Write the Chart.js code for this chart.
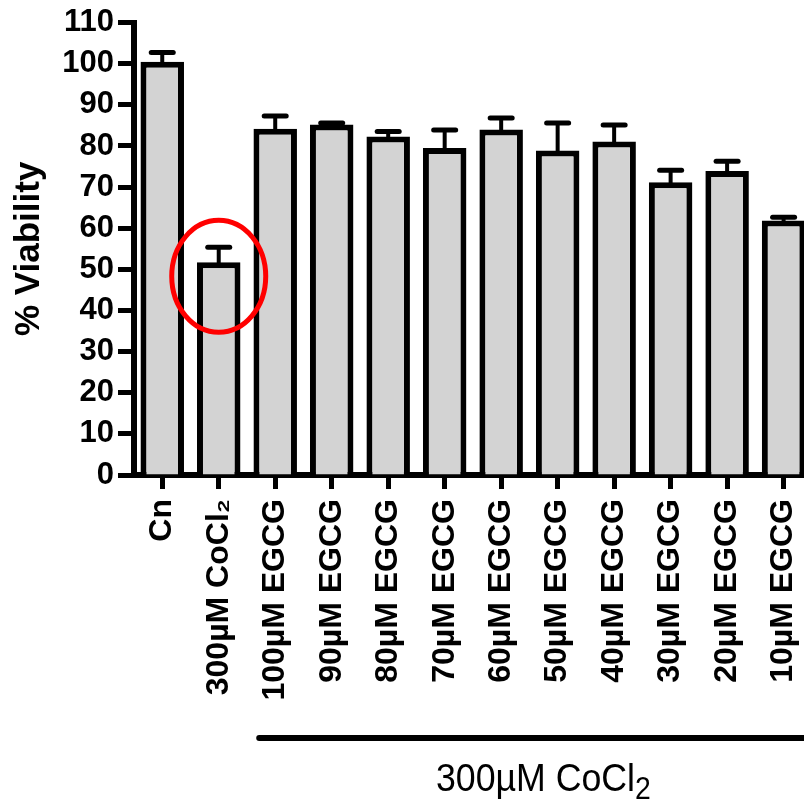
<!DOCTYPE html>
<html>
<head>
<meta charset="utf-8">
<script src="https://cdn.jsdelivr.net/npm/chart.js@4.4.0/dist/chart.umd.min.js"></script>
<style>
  html, body { margin: 0; padding: 0; background: #fff; overflow: hidden; }
  canvas { display: block; }
</style>
</head>
<body>
<canvas id="viabilityChart" width="832" height="801"></canvas>
<script>
// Data
const categories = ['Cn', '300µM CoCl₂', '100µM EGCG', '90µM EGCG', '80µM EGCG', '70µM EGCG',
    '60µM EGCG', '50µM EGCG', '40µM EGCG', '30µM EGCG', '20µM EGCG', '10µM EGCG'];
const viability = [100.5, 51.7, 84.2, 85.2, 82.3, 79.5, 84.0, 78.9, 81.1, 71.2, 73.9, 61.9];
const sem = [2.2, 3.7, 3.1, 0.4, 1.2, 4.4, 2.8, 6.7, 4.0, 2.9, 2.4, 0.8];
const yTicks = [0, 10, 20, 30, 40, 50, 60, 70, 80, 90, 100, 110];
const highlighted = 1;          // bar circled in red
const groupStart = 2;           // first bar under the CoCl2 bracket
const groupLabel = '300µM CoCl';

const FONT = "'Liberation Sans', Arial, sans-serif";

// Error bars (upper only) drawn from the bar elements
const errorBars = {
    id: 'errorBars',
    afterDatasetsDraw(chart) {
        const ctx = chart.ctx;
        const y = chart.scales.y;
        const meta = chart.getDatasetMeta(0);
        ctx.save();
        ctx.strokeStyle = '#000';
        ctx.lineCap = 'round';
        meta.data.forEach((bar, i) => {
            const top = y.getPixelForValue(viability[i] + sem[i]);
            ctx.lineWidth = 4;
            ctx.beginPath();
            ctx.moveTo(bar.x, bar.y);
            ctx.lineTo(bar.x, top);
            ctx.stroke();
            ctx.lineWidth = 5;
            ctx.beginPath();
            ctx.moveTo(bar.x - 11, top);
            ctx.lineTo(bar.x + 11, top);
            ctx.stroke();
        });
        ctx.restore();
    }
};

// Red ellipse, bracket line and group label
const annotations = {
    id: 'annotations',
    afterDraw(chart) {
        const ctx = chart.ctx;
        const x = chart.scales.x;
        const y = chart.scales.y;
        ctx.save();
        // ellipse round the CoCl2 bar
        ctx.strokeStyle = '#ff0000';
        ctx.lineWidth = 5;
        ctx.beginPath();
        ctx.ellipse(x.getPixelForValue(highlighted), y.getPixelForValue(48.3), 47, 56, 0, 0, Math.PI * 2);
        ctx.stroke();

        // bracket under the treated groups
        const x0 = x.getPixelForValue(groupStart) - 16;
        const x1 = chart.width;
        ctx.strokeStyle = '#000';
        ctx.lineWidth = 6;
        ctx.lineCap = 'round';
        ctx.beginPath();
        ctx.moveTo(x0, 738);
        ctx.lineTo(x1 + 10, 738);
        ctx.stroke();

        // group label with subscript
        const cx = (x.getPixelForValue(groupStart) + x.getPixelForValue(categories.length - 1)) / 2 + 14;
        ctx.fillStyle = '#000';
        ctx.textBaseline = 'alphabetic';
        ctx.textAlign = 'left';
        ctx.translate(cx, 791);
        ctx.scale(0.915, 1);
        ctx.font = '39px ' + FONT;
        const mainW = ctx.measureText(groupLabel).width;
        ctx.font = '31px ' + FONT;
        const subW = ctx.measureText('2').width;
        const start = -(mainW + subW) / 2;
        ctx.font = '39px ' + FONT;
        ctx.fillText(groupLabel, start, 0);
        ctx.font = '31px ' + FONT;
        ctx.fillText('2', start + mainW, 8);
        ctx.restore();
    }
};

const ctx = document.getElementById('viabilityChart').getContext('2d');
new Chart(ctx, {
    type: 'bar',
    data: {
        labels: categories,
        datasets: [{
            label: '% Viability',
            data: viability,
            backgroundColor: '#d3d3d3',
            borderColor: '#000',
            borderWidth: 6,
            borderSkipped: 'bottom',
            categoryPercentage: 1,
            barPercentage: 0.77
        }]
    },
    options: {
        responsive: false,
        animation: false,
        layout: {
            padding: { top: 22, right: 0, bottom: 0, left: 0 }
        },
        plugins: {
            legend: { display: false },
            tooltip: { enabled: false }
        },
        scales: {
            x: {
                afterFit: s => { s.height = 326; },
                grid: {
                    offset: false,
                    drawOnChartArea: false,
                    drawTicks: true,
                    tickLength: 14,
                    tickWidth: 5,
                    tickColor: '#000'
                },
                border: { display: true, width: 6, color: '#000' },
                ticks: {
                    autoSkip: false,
                    maxRotation: 90,
                    minRotation: 90,
                    padding: 10,
                    color: '#000',
                    font: { family: FONT, size: 32, weight: 'bold' }
                }
            },
            y: {
                min: 0,
                max: 110,
                afterFit: s => { s.width = 134; },
                afterBuildTicks: s => { s.ticks = yTicks.map(v => ({ value: v })); },
                grid: {
                    drawOnChartArea: false,
                    drawTicks: true,
                    tickLength: 16,
                    tickWidth: 5,
                    tickColor: '#000'
                },
                border: { display: true, width: 6, color: '#000' },
                ticks: {
                    padding: 4,
                    color: '#000',
                    font: { family: FONT, size: 31, weight: 'bold' }
                },
                title: {
                    display: true,
                    text: '% Viability',
                    color: '#000',
                    padding: { top: 8, bottom: 0 },
                    font: { family: FONT, size: 35, weight: 'bold' }
                }
            }
        }
    },
    plugins: [errorBars, annotations]
});
</script>
</body>
</html>
